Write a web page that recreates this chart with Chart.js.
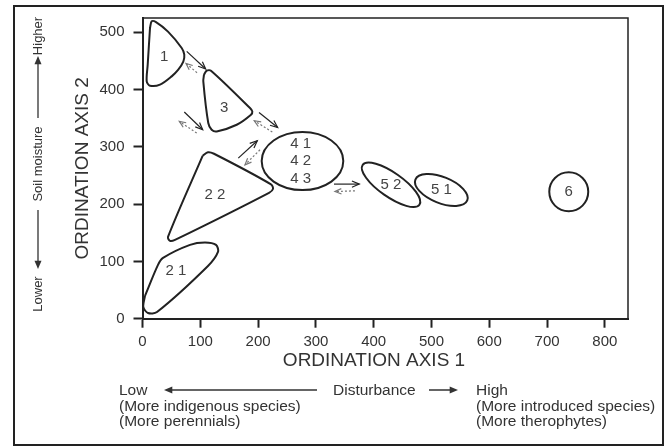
<!DOCTYPE html>
<html>
<head>
<meta charset="utf-8">
<script src="https://cdn.jsdelivr.net/npm/chart.js@4"></script>
<style>
  html, body { margin: 0; padding: 0; background: #fff; }
  #wrap { width: 669px; height: 447px; position: relative; }
</style>
</head>
<body>
<div id="wrap"><canvas id="chart"></canvas></div>
<script>
// axis ranges / ticks
const xTicks = [0, 100, 200, 300, 400, 500, 600, 700, 800];
const yTicks = [0, 100, 200, 300, 400, 500];

// outlines of the irregular groups (ordination units)
const group1 = [[13, 507.7], [15.9, 519.2], [23.4, 517.8], [44.1, 501.2], [67.8, 472.7], [72.3, 461], [70.6, 448.8], [61.9, 434.8], [50.5, 423.1], [30.3, 408.6], [13, 406.8], [7.3, 414.3], [9, 443.5]];
const group3 = [[106.4, 426], [111.1, 433], [118.5, 433], [186, 367.8], [190, 361.9], [187.7, 356.1], [163, 338.6], [128.4, 326.9], [119.7, 329.9], [113.8, 341.6], [105.2, 414.3]];
const group22 = [[104, 284.3], [113.3, 290.6], [123.7, 288], [222.3, 234.6], [225.8, 226.7], [218.9, 219.8], [56.2, 137.6], [47.6, 135.8], [44.1, 142.8]];
const group21 = [[4.3, 39.7], [1.4, 20.5], [9.5, 10], [25.1, 11.7], [113.3, 92.1], [130.6, 116.6], [127.2, 128.8], [108.1, 132.9], [82.2, 128.8], [35.5, 106.1], [26.8, 93.9]];

// ellipses: centre, semi axes (x units), tilt in degrees
const ellipseCentres = [[276.8, 275.3], [430, 233.7], [517, 224.7], [737.5, 221.5]];
const ellipseAxes = [[70.6, 50.3], [60, 20.8], [48.4, 22.5], [33.7, 33.7]];
const ellipseTilt = [0, 35, 22, 0];

// group labels
const groupNames = ['1', '3', '2 2', '2 1', '4 1', '4 2', '4 3', '5 2', '5 1', '6'];
const groupLabelPos = [[37.7, 458], [141.5, 368.9], [125.4, 216.3], [58, 84], [273.7, 304.9], [273.7, 275.2], [273.7, 244.2], [430, 233.7], [517, 224.7], [737.5, 221.5]];

// succession arrows [x1, y1, x2, y2], head at the second point
const solidArrows = [[76.5, 466.8, 109.3, 436], [72.3, 360.8, 104.2, 329.9], [201.6, 360.1, 233.9, 333.9], [165.7, 280.4, 198.6, 310.7], [331.3, 235, 375.1, 235]];
const dashedArrows = [[94.3, 429.5, 75.3, 445.6], [93.8, 324.1, 63.7, 344.4], [224.6, 325.9, 193.4, 345.6], [203.3, 294.9, 177.3, 268.7], [367.6, 223.3, 333, 222]];

const INK = '#222';
const TEXT = '#333';
const FONT = '"Liberation Sans", Arial, sans-serif';

function toPts(arr) {
    let pts = arr.map(p => ({ x: p[0], y: p[1] }));
    pts.push({ x: arr[0][0], y: arr[0][1] }); // close the outline
    return pts;
}

function outline(arr) {
    return {
        data: toPts(arr),
        showLine: true,
        borderColor: INK,
        borderWidth: 2,
        pointRadius: 0,
        tension: 0.3,
        fill: false
    };
}

function arrowHead(ctx, x1, y1, x2, y2, size, filled) {
    let a = Math.atan2(y2 - y1, x2 - x1);
    ctx.beginPath();
    ctx.moveTo(x2 - size * Math.cos(a - 0.4), y2 - size * Math.sin(a - 0.4));
    ctx.lineTo(x2, y2);
    ctx.lineTo(x2 - size * Math.cos(a + 0.4), y2 - size * Math.sin(a + 0.4));
    if (filled) {
        ctx.closePath();
        ctx.fill();
    } else {
        ctx.stroke();
    }
}

const extras = {
    id: 'extras',
    afterDatasetsDraw(chart) {
        const ctx = chart.ctx;
        const xs = chart.scales.x, ys = chart.scales.y;
        const area = chart.chartArea;
        const unit = Math.abs(xs.getPixelForValue(1) - xs.getPixelForValue(0));
        ctx.save();

        // frame top + right of plot area
        ctx.strokeStyle = INK;
        ctx.lineWidth = 1.5;
        ctx.beginPath();
        ctx.moveTo(area.left, area.top);
        ctx.lineTo(area.right, area.top);
        ctx.lineTo(area.right, area.bottom);
        ctx.stroke();

        // ellipses
        ctx.lineWidth = 2;
        ellipseCentres.forEach((c, i) => {
            ctx.beginPath();
            ctx.ellipse(xs.getPixelForValue(c[0]), ys.getPixelForValue(c[1]),
                ellipseAxes[i][0] * unit, ellipseAxes[i][1] * unit,
                ellipseTilt[i] * Math.PI / 180, 0, Math.PI * 2);
            ctx.stroke();
        });

        // group labels
        ctx.fillStyle = '#444';
        ctx.font = '15px ' + FONT;
        ctx.textAlign = 'center';
        ctx.textBaseline = 'middle';
        groupNames.forEach((n, i) => {
            ctx.fillText(n, xs.getPixelForValue(groupLabelPos[i][0]), ys.getPixelForValue(groupLabelPos[i][1]));
        });

        // arrows
        ctx.lineWidth = 1.2;
        ctx.strokeStyle = INK;
        solidArrows.forEach(a => {
            let x1 = xs.getPixelForValue(a[0]), y1 = ys.getPixelForValue(a[1]);
            let x2 = xs.getPixelForValue(a[2]), y2 = ys.getPixelForValue(a[3]);
            ctx.setLineDash([]);
            ctx.beginPath();
            ctx.moveTo(x1, y1);
            ctx.lineTo(x2, y2);
            ctx.stroke();
            arrowHead(ctx, x1, y1, x2, y2, 8, false);
        });
        ctx.strokeStyle = '#777';
        dashedArrows.forEach(a => {
            let x1 = xs.getPixelForValue(a[0]), y1 = ys.getPixelForValue(a[1]);
            let x2 = xs.getPixelForValue(a[2]), y2 = ys.getPixelForValue(a[3]);
            ctx.setLineDash([2, 2]);
            ctx.beginPath();
            ctx.moveTo(x1, y1);
            ctx.lineTo(x2, y2);
            ctx.stroke();
            ctx.setLineDash([]);
            arrowHead(ctx, x1, y1, x2, y2, 7, false);
        });
        ctx.restore();
    },
    afterDraw(chart) {
        const ctx = chart.ctx;
        ctx.save();

        // outer frame
        ctx.strokeStyle = INK;
        ctx.lineWidth = 2;
        ctx.strokeRect(14, 6, 649, 439);

        // x axis title
        ctx.fillStyle = TEXT;
        ctx.textBaseline = 'middle';
        ctx.textAlign = 'center';
        ctx.font = '19px ' + FONT;
        ctx.fillText('ORDINATION AXIS 1', 374, 361);

        // disturbance gradient below
        ctx.font = '15.5px ' + FONT;
        ctx.textAlign = 'left';
        ctx.fillText('Low', 119, 391);
        ctx.fillText('(More indigenous species)', 119, 407);
        ctx.fillText('(More perennials)', 119, 422);
        ctx.fillText('Disturbance', 333, 391);
        ctx.fillText('High', 476, 391);
        ctx.fillText('(More introduced species)', 476, 407);
        ctx.fillText('(More therophytes)', 476, 422);
        ctx.strokeStyle = TEXT;
        ctx.fillStyle = TEXT;
        ctx.lineWidth = 1.3;
        ctx.beginPath();
        ctx.moveTo(317, 390);
        ctx.lineTo(168, 390);
        ctx.moveTo(429, 390);
        ctx.lineTo(454, 390);
        ctx.stroke();
        arrowHead(ctx, 317, 390, 164, 390, 9, true);
        arrowHead(ctx, 429, 390, 458, 390, 9, true);

        // soil moisture gradient (rotated)
        ctx.translate(38, 0);
        ctx.rotate(-Math.PI / 2);
        ctx.font = '13px ' + FONT;
        ctx.textAlign = 'center';
        ctx.fillText('Lower', -294, 0);
        ctx.fillText('Soil moisture', -164, 0);
        ctx.fillText('Higher', -36, 0);
        ctx.beginPath();
        ctx.moveTo(-210, 0);
        ctx.lineTo(-265, 0);
        ctx.moveTo(-118, 0);
        ctx.lineTo(-60, 0);
        ctx.stroke();
        arrowHead(ctx, -210, 0, -269, 0, 9, true);
        arrowHead(ctx, -118, 0, -56, 0, 9, true);
        ctx.restore();
    }
};

new Chart(document.getElementById('chart'), {
    type: 'scatter',
    data: {
        datasets: [outline(group1), outline(group3), outline(group22), outline(group21)]
    },
    options: {
        responsive: true,
        maintainAspectRatio: false,
        animation: false,
        layout: { padding: { left: 70, top: 18, right: 41, bottom: 0 } },
        plugins: {
            legend: { display: false },
            tooltip: { enabled: false }
        },
        scales: {
            x: {
                type: 'linear',
                min: 0,
                max: 840,
                afterBuildTicks: (scale) => { scale.ticks = xTicks.map(v => ({ value: v })); },
                afterFit: (scale) => { scale.height = 128.3; },
                grid: { drawOnChartArea: false, color: INK, tickLength: 9, tickWidth: 2 },
                border: { color: INK, width: 2 },
                ticks: { color: TEXT, font: { size: 15, family: FONT }, padding: 5, maxRotation: 0 }
            },
            y: {
                type: 'linear',
                min: 0,
                max: 525,
                afterBuildTicks: (scale) => { scale.ticks = yTicks.map(v => ({ value: v })); },
                afterFit: (scale) => { scale.width = 72.5; },
                grid: { drawOnChartArea: false, color: INK, tickLength: 9, tickWidth: 2 },
                border: { color: INK, width: 2 },
                ticks: { color: TEXT, font: { size: 15, family: FONT }, padding: 9 },
                title: {
                    display: true,
                    text: 'ORDINATION AXIS 2',
                    color: TEXT,
                    font: { size: 19, family: FONT },
                    padding: { top: 1, bottom: 0 }
                }
            }
        }
    },
    plugins: [extras]
});
</script>
</body>
</html>
